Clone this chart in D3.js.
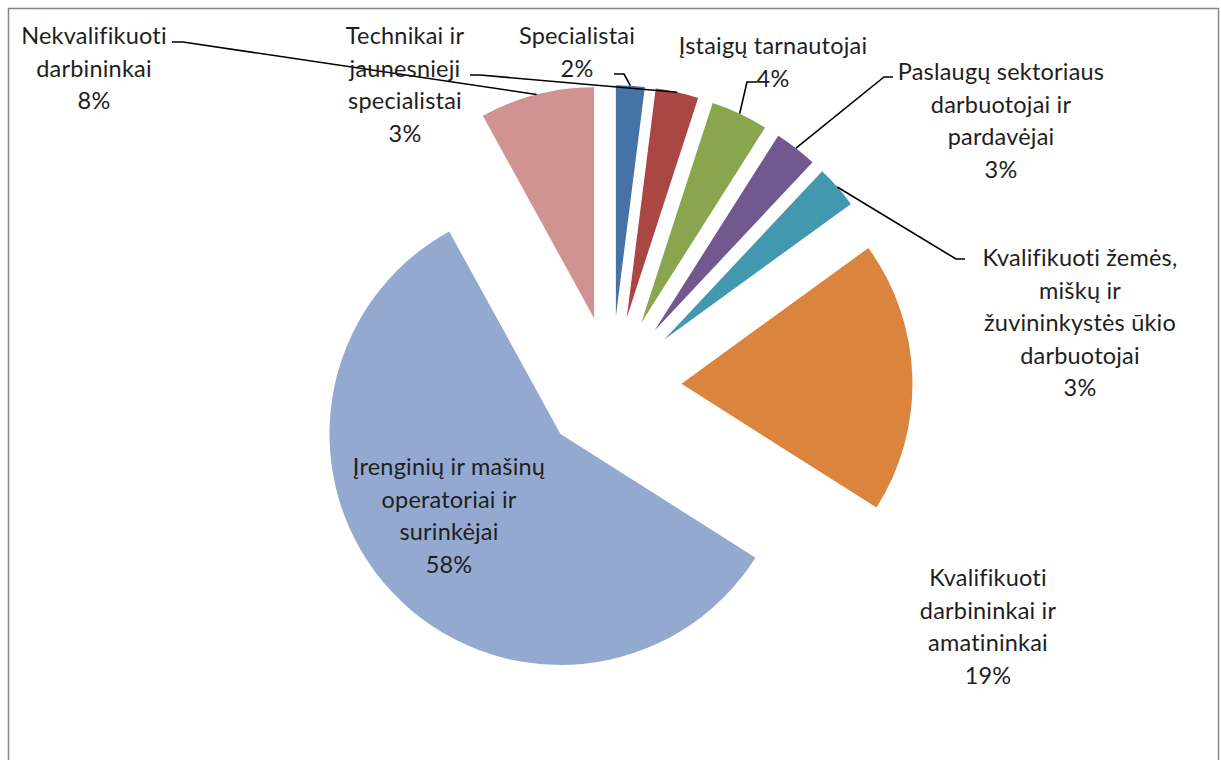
<!DOCTYPE html>
<html>
<head>
<meta charset="utf-8">
<script src="https://cdn.jsdelivr.net/npm/d3@7"></script>
<style>
  body { margin: 0; background: #fff; }
  text { font-family: Lato, "Open Sans", sans-serif; font-size: 23.5px; letter-spacing: 0.2px; fill: #1e1e1e; }
</style>
</head>
<body>
<svg id="container" width="1221" height="760"></svg>
<script>
var categories = [
  "Specialistai",
  "Technikai ir jaunesnieji specialistai",
  "Įstaigų tarnautojai",
  "Paslaugų sektoriaus darbuotojai ir pardavėjai",
  "Kvalifikuoti žemės, miškų ir žuvininkystės ūkio darbuotojai",
  "Kvalifikuoti darbininkai ir amatininkai",
  "Įrenginių ir mašinų operatoriai ir surinkėjai",
  "Nekvalifikuoti darbininkai"
];
var values = [2, 3, 4, 3, 3, 19, 58, 8];
var labelLines = [
  ["Specialistai"],
  ["Technikai ir", "jaunesnieji", "specialistai"],
  ["Įstaigų tarnautojai"],
  ["Paslaugų sektoriaus", "darbuotojai ir", "pardavėjai"],
  ["Kvalifikuoti žemės,", "miškų ir", "žuvininkystės ūkio", "darbuotojai"],
  ["Kvalifikuoti", "darbininkai ir", "amatininkai"],
  ["Įrenginių ir mašinų", "operatoriai ir", "surinkėjai"],
  ["Nekvalifikuoti", "darbininkai"]
];
var colors = ["#4572A7", "#AA4643", "#89A54E", "#71588F", "#4198AF", "#DB843D", "#93A9CF", "#D19392"];

// label placement: centre x, first line centre y, leader start (x, y, horizontal step)
var labelPos = [
  {x: 577, y: 36, lead: [614, 74, 10]},
  {x: 405, y: 36, lead: [470, 75, 10]},
  {x: 773, y: 46, lead: [757, 82, -10]},
  {x: 1001, y: 72, lead: [893, 77, -9]},
  {x: 1080, y: 258, lead: [965, 259, -9]},
  {x: 988, y: 578, lead: null},
  {x: 449, y: 467, lead: null},
  {x: 94, y: 36, lead: [172, 42, 11]}
];

var svg = d3.select("#container");
var cx = 611.5, cy = 386, radius = 231, explode = 70, lineH = 32.5;

svg.append("rect")
  .attr("x", 8.5).attr("y", 8.5)
  .attr("width", 1210).attr("height", 770)
  .attr("fill", "#fff")
  .attr("stroke", "#868686")
  .attr("stroke-width", 1.5);

var pie = d3.pie().sort(null).value(function(d) {return d;});
var arcs = pie(values);
var arc = d3.arc().innerRadius(0).outerRadius(radius);

var offset = function(d, r) {
  var a = (d.startAngle + d.endAngle) / 2;
  return [cx + r * Math.sin(a), cy - r * Math.cos(a)];
};

svg.selectAll(".slice")
  .data(arcs)
  .enter()
  .append("path")
  .attr("class", "slice")
  .attr("transform", function(d) {var p = offset(d, explode); return "translate(" + p[0] + "," + p[1] + ")";})
  .attr("fill", function(d, i) {return colors[i];})
  .attr("d", arc);

// leader lines
svg.selectAll(".leader")
  .data(arcs.filter(function(d, i) {return labelPos[i].lead;}))
  .enter()
  .append("polyline")
  .attr("class", "leader")
  .attr("fill", "none")
  .attr("stroke", "#000")
  .attr("stroke-width", 1.6)
  .attr("points", function(d) {
    var l = labelPos[d.index].lead;
    var end = offset(d, explode + radius);
    return [[l[0], l[1]], [l[0] + l[2], l[1]], end].map(function(p) {return p.join(",");}).join(" ");
  });

var labels = svg.selectAll(".label")
  .data(arcs)
  .enter()
  .append("text")
  .attr("class", "label")
  .attr("text-anchor", "middle");

labels.each(function(d, i) {
  var lines = labelLines[i].concat([values[i] + "%"]);
  var t = d3.select(this);
  lines.forEach(function(s, j) {
    t.append("tspan")
      .attr("x", labelPos[i].x)
      .attr("y", labelPos[i].y + j * lineH)
      .attr("dy", ".35em")
      .text(s);
  });
});
</script>
</body>
</html>
